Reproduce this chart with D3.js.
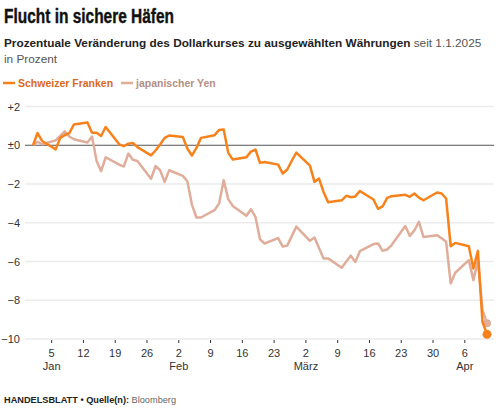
<!DOCTYPE html>
<html>
<head>
<meta charset="utf-8">
<script src="https://cdn.jsdelivr.net/npm/d3@7"></script>
<style>
  body { margin: 0; background: #fff; }
  text { font-family: "Liberation Sans", Arial, sans-serif; }
</style>
</head>
<body>
<script>
// business days, 2025
var days = {
  "01": [1,2,3,6,7,8,9,10,13,14,15,16,17,20,21,22,23,24,27,28,29,30,31],
  "02": [3,4,5,6,7,10,11,12,13,14,17,18,19,20,21,24,25,26,27,28],
  "03": [3,4,5,6,7,10,11,12,13,14,17,18,19,20,21,24,25,26,27,28,31],
  "04": [1,2,3,4,7,8,9,10,11]
};
var dates = [];
Object.keys(days).forEach(function(m){
  days[m].forEach(function(d){ dates.push("2025-" + m + "-" + (d < 10 ? "0" + d : d)); });
});

var chf = [0, 0.63, 0.22, -0.21, 0.38, 0.52, 0.63, 1.07, 1.17, 0.65, 0.65, 0.48, 0.94, 0.05, -0.05, 0.08, 0.12, -0.1, -0.52, -0.27, 0.04, 0.38, 0.5,
  0.43, -0.17, -0.53, -0.14, 0.38, 0.52, 0.79, 0.81, -0.38, -0.74, -0.62, -0.33, -0.22, -0.91, -0.86, -1.0, -1.46, -1.25, -0.8, -0.38,
  -1.05, -1.89, -1.72, -2.41, -2.94, -2.84, -2.61, -2.68, -2.64, -2.36, -2.8, -3.28, -3.16, -2.72, -2.63, -2.56, -2.66, -2.49, -2.7, -2.84, -2.44,
  -2.49, -2.75, -5.21, -5.04, -5.21, -6.36, -5.45, -9.11, -9.76];

var jpy = [0, 0.18, 0.05, 0.25, 0.48, 0.72, 0.45, 0.31, 0.14, 0.45, -0.8, -1.34, -0.62, -1.0, -1.1, -0.43, -0.75, -0.81, -1.73, -1.07, -1.29, -1.89, -1.29,
  -1.58, -1.86, -3.06, -3.73, -3.73, -3.35, -3.0, -1.8, -2.78, -3.13, -3.64, -3.3, -3.7, -4.85, -5.07, -4.79, -5.23, -5.18, -4.69, -4.2,
  -4.93, -4.76, -5.3, -5.84, -5.84, -6.32, -6.0, -5.7, -6.02, -5.47, -5.1, -5.07, -5.45, -5.38, -5.15, -4.17, -4.68, -4.4, -3.95, -4.73, -4.64,
  -4.8, -4.98, -7.13, -6.58, -5.93, -6.96, -5.96, -8.5, -9.19];

var yTicks = [2, 0, -2, -4, -6, -8, -10];
var yTickLabels = ["+2", "±0", "\u22122", "\u22124", "\u22126", "\u22128", "\u221210"];
var monthNames = ["Jan", "Feb", "März", "Apr"];

var orange = "#f7821b", pink = "#e0ad9b";

var width = 500, height = 412;
var parse = d3.utcParse("%Y-%m-%d");

var data = dates.map(function(d, i){ return { date: parse(d), chf: chf[i], jpy: jpy[i] }; });

var x = d3.scaleUtc()
          .domain([parse("2025-01-01"), parse("2025-04-11")])
          .range([33, 487]);
var y = d3.scaleLinear()
          .domain([-10, 2])
          .range([339, 106.5]);

var svg = d3.select("body").append("svg").attr("width", width).attr("height", height);

// title (condensed look)
svg.append("text").attr("x", 4).attr("y", 23)
   .attr("textLength", 170).attr("lengthAdjust", "spacingAndGlyphs")
   .style("font-weight", "bold").style("font-size", "20px").style("fill", "#111")
   .style("stroke", "#111").style("stroke-width", 0.4)
   .text("Flucht in sichere Häfen");

var sub = svg.append("text").attr("x", 4).attr("y", 47).style("font-size", "11.8px");
sub.append("tspan").style("font-weight", "bold").style("fill", "#222")
   .text("Prozentuale Veränderung des Dollarkurses zu ausgewählten Währungen");
sub.append("tspan").style("fill", "#555").text(" seit 1.1.2025");
svg.append("text").attr("x", 4).attr("y", 63).style("font-size", "11.8px").style("fill", "#555").text("in Prozent");

// legend
var legend = [{ name: "Schweizer Franken", color: orange, text: "#d9691c", x: 3 },
              { name: "japanischer Yen", color: pink, text: "#b38f84", x: 121 }];
var lg = svg.selectAll(".legend").data(legend).enter().append("g")
            .attr("class", "legend").attr("transform", function(d){ return "translate(" + d.x + ",83)"; });
lg.append("line").attr("x1", 0).attr("x2", 12).attr("y1", 0).attr("y2", 0)
  .attr("stroke", function(d){ return d.color; }).attr("stroke-width", 2.5);
lg.append("text").attr("x", 15).attr("y", 4).style("font-size", "10.5px").style("font-weight", "bold")
  .style("fill", function(d){ return d.text; }).text(function(d){ return d.name; });

// grid + y labels
var grid = svg.append("g");
grid.selectAll("line").data(yTicks).enter().append("line")
    .attr("x1", 25).attr("x2", 494)
    .attr("y1", function(d){ return y(d); }).attr("y2", function(d){ return y(d); })
    .attr("stroke", function(d){ return d === 0 ? "#555" : "#ebebeb"; })
    .attr("stroke-width", function(d){ return d === 0 ? 1 : 1.5; });
grid.selectAll("text").data(yTicks).enter().append("text")
    .attr("x", 20).attr("y", function(d){ return y(d) + 4; })
    .attr("text-anchor", "end").style("font-size", "11px").style("fill", "#333")
    .text(function(d, i){ return yTickLabels[i]; });

// x axis
var sundays = d3.utcSunday.range(parse("2025-01-05"), parse("2025-04-07"));
var xAxis = d3.axisBottom(x).tickValues(sundays).tickSize(3).tickPadding(6)
              .tickFormat(d3.utcFormat("%-d"));
var gx = svg.append("g").attr("transform", "translate(0,340)").call(xAxis);
gx.select(".domain").remove();
gx.selectAll(".tick line").attr("stroke", "#333");
gx.selectAll(".tick text").style("font-size", "11px").style("fill", "#333")
  .style("font-family", "'Liberation Sans', Arial, sans-serif");
gx.selectAll(".tick").filter(function(d, i){ return i === 0 || d.getUTCDate() <= 7; })
  .append("text").attr("y", 30).attr("fill", "#333").attr("text-anchor", "middle")
  .style("font-size", "11px").style("font-family", "'Liberation Sans', Arial, sans-serif")
  .text(function(d){ return monthNames[d.getUTCMonth()]; });

// lines
var series = [{ key: "jpy", color: pink, r: 4 }, { key: "chf", color: orange, r: 4.5 }];
series.forEach(function(s){
  var line = d3.line().x(function(d){ return x(d.date); }).y(function(d){ return y(d[s.key]); });
  svg.append("path").datum(data).attr("d", line)
     .attr("fill", "none").attr("stroke", s.color).attr("stroke-width", 2.5)
     .attr("stroke-linejoin", "round");
  var last = data[data.length - 1];
  svg.append("circle").attr("cx", x(last.date)).attr("cy", y(last[s.key])).attr("r", s.r).attr("fill", s.color);
});

// footer
var foot = svg.append("text").attr("x", 4).attr("y", 403).style("font-size", "9.2px");
foot.append("tspan").style("font-weight", "bold").style("fill", "#222").text("HANDELSBLATT • Quelle(n): ");
foot.append("tspan").style("fill", "#666").text("Bloomberg");
</script>
</body>
</html>
